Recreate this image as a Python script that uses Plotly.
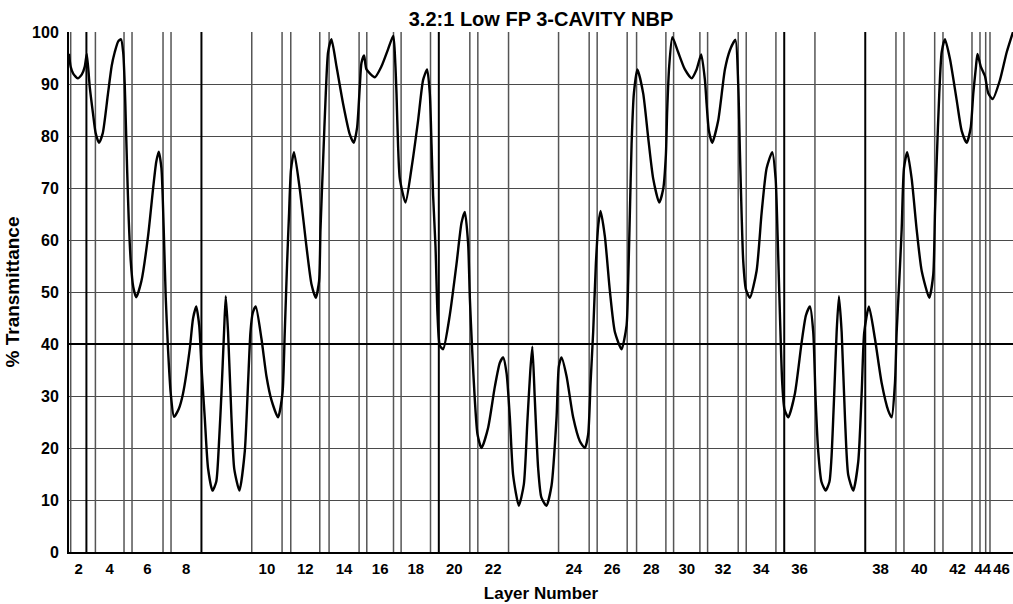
import numpy as np
import plotly.graph_objects as go

# Layer thicknesses (relative units)
layer_thickness = [1.7, 15.7, 9.0, 28.6, 8.0, 31.0, 8.0, 30.4, 50.3, 30.3,
                   8.7, 29.0, 9.3, 30.0, 7.7, 26.7, 7.6, 29.4, 8.3, 31.0,
                   8.0, 30.7, 50.0, 30.6, 8.0, 30.0, 9.4, 29.3, 7.7, 26.3,
                   7.7, 30.6, 8.0, 29.7, 8.3, 30.7, 50.3, 30.7, 8.0, 30.7,
                   8.3, 29.0, 8.0, 5.7, 4.3, 23.0]
layer_numbers = list(range(1, len(layer_thickness) + 1))
# boundaries drawn heavier
heavy_boundaries = [2, 8, 19, 35, 37]

# Transmittance curve: position through the stack and % transmittance
position = [
    0, 1.7, 4.2, 8.7, 12.7, 15.7, 17.8,
    20.7, 24.0, 26.7, 30.0, 33.7, 39.0, 42.7, 45.7, 49.2, 52.0,
    54.2, 55.7, 56.9, 58.2, 59.7, 61.7, 64.2, 67.2,
    72.4, 79.0, 84.0, 87.2, 89.7,
    92.4, 94.7, 96.7, 99.0, 101.7, 105.0,
    109.7, 114.0, 120.7, 124.0, 127.2,
    130.2, 132.4, 135.7, 139.0, 143.4,
    147.2, 150.2, 152.4, 155.0, 156.7,
    159.0, 162.4, 165.2, 170.4,
    175.7, 179.0, 181.4, 183.7, 186.7,
    192.4, 197.4, 202.4, 209.0,
    213.4, 215.7, 218.0, 220.0, 221.9, 225.0,
    230.7, 237.4, 242.4, 246.7,
    250.0, 251.4, 254.0, 256.7, 259.0, 262.4,
    267.4, 274.0, 280.7, 284.7,
    288.0, 290.7, 292.4, 295.0,
    297.4, 305.7,
    312.4, 319.0, 324.2,
    326.2, 327.4, 329.0, 330.7, 336.4,
    342.4, 349.0, 354.0, 358.0,
    360.7, 362.4, 364.0, 366.4, 368.4, 370.7, 374.0,
    380.7, 387.4, 392.4, 395.7,
    399.0, 400.7, 403.0, 405.7, 408.4, 412.4,
    419.0, 425.7, 430.7, 434.0,
    437.4, 440.7, 444.0, 449.7,
    454.7, 458.2, 461.2, 463.2,
    465.7, 469.0, 472.2, 477.2,
    482.4, 487.4, 489.7, 492.4,
    497.4, 504.0, 510.7, 515.7,
    519.0, 521.4, 524.0, 526.7, 529.2, 531.4,
    535.7, 540.7, 545.7, 552.4,
    557.4, 559.0, 560.7, 562.4, 564.7, 568.2,
    574.0, 579.0, 584.0, 590.0,
    594.0, 596.7, 598.0, 600.0, 603.2,
    609.0, 615.7, 622.4,
    627.4, 632.0,
    635.7, 637.4, 639.7, 643.0,
    649.0, 655.7, 660.7, 666.2,
    669.0, 670.7, 672.4, 674.0, 676.7, 680.7,
    687.4, 692.4, 697.4, 703.0,
    706.4, 708.4, 710.7, 713.0, 715.2, 719.0,
    725.7, 732.4, 736.7, 740.7,
    744.0, 746.4, 749.0, 752.2, 756.4,
    760.2, 762.2, 765.0, 767.4, 769.7,
    772.4, 775.7, 779.0, 784.0,
    789.0, 792.4, 795.0, 799.7,
    805.7, 812.4, 819.0, 822.4,
    825.7, 827.4, 830.0, 832.4, 834.7, 838.0,
    842.4, 847.4, 852.4, 860.0,
    864.0, 865.7, 867.4, 870.0, 872.4, 875.7,
    880.7, 887.4, 892.4, 897.4,
    901.4, 904.0, 906.7, 908.2,
    911.4, 915.7, 919.0, 923.4,
    930.7, 937.4, 943.7,
]
transmittance = [
    95.8, 93.3, 92.0, 91.1, 91.8, 93.3, 95.8,
    89.5, 84.3, 80.5, 78.7, 80.5, 88.2, 93.5, 96.1, 98.2, 98.6,
    96.0, 90.0, 82.0, 73.0, 64.0, 56.0, 51.0, 49.0,
    52.1, 60.7, 69.8, 75.0, 77.0,
    73.8, 62.0, 49.0, 39.0, 30.5, 26.0,
    27.5, 30.5, 39.0, 44.9, 47.2,
    43.5, 35.7, 25.9, 16.1, 11.8,
    13.5, 22.0, 30.5, 42.3, 49.2,
    42.3, 25.9, 16.0, 11.8,
    19.3, 32.5, 42.3, 46.0, 47.2,
    41.0, 33.8, 29.2, 25.9,
    30.5, 42.3, 55.4, 65.2, 73.5, 76.9,
    69.8, 58.7, 51.5, 48.9,
    52.1, 62.0, 75.1, 88.2, 96.1, 98.6,
    93.4, 86.2, 80.3, 78.7,
    81.6, 89.5, 94.1, 95.5,
    92.8, 91.3,
    93.4, 96.7, 99.3,
    94.0, 88.2, 78.0, 71.8, 67.2,
    73.8, 83.0, 90.8, 92.8,
    88.2, 78.4, 68.5, 58.7, 45.6, 39.7, 39.0,
    45.6, 55.4, 63.3, 65.4,
    59.3, 48.9, 39.0, 29.2, 22.6, 20.0,
    23.9, 31.8, 36.4, 37.4,
    34.4, 25.9, 14.8, 8.9,
    13.0, 25.0, 35.0, 39.5,
    29.2, 16.1, 10.5, 8.9,
    12.8, 25.9, 35.7, 37.4,
    33.8, 25.9, 21.3, 20.0,
    22.6, 32.5, 42.3, 55.4, 63.0, 65.6,
    60.7, 50.2, 42.3, 39.0,
    43.6, 52.1, 65.2, 78.4, 88.2, 92.8,
    88.2, 79.7, 71.8, 67.2,
    69.8, 76.4, 84.9, 93.4, 99.0,
    96.1, 92.8, 91.1,
    92.8, 95.7,
    90.8, 86.2, 81.0, 78.7,
    83.0, 92.8, 96.5, 98.5,
    90.0, 77.0, 65.0, 56.0, 50.5, 48.9,
    54.1, 65.2, 73.8, 76.9,
    71.8, 60.7, 45.6, 32.5, 27.5, 25.9,
    30.5, 40.3, 45.5, 47.2,
    42.3, 29.2, 19.3, 13.5, 11.8,
    13.5, 18.0, 30.5, 42.3, 49.2,
    42.3, 25.9, 14.8, 11.8,
    17.4, 30.5, 42.3, 47.2,
    41.0, 32.5, 27.2, 25.9,
    32.5, 42.3, 52.1, 62.0, 73.8, 76.9,
    71.8, 62.0, 54.1, 48.9,
    53.4, 65.2, 75.1, 88.2, 96.1, 98.6,
    94.8, 86.9, 81.0, 78.7,
    81.6, 88.2, 93.4, 95.8,
    93.4, 91.5, 88.2, 87.1,
    90.8, 96.1, 100.0,
]
assert len(position) == len(transmittance)

y_ticks = list(range(0, 101, 10))

bounds = np.concatenate([[0.0], np.cumsum(layer_thickness)])
total = float(bounds[-1])
centers = (bounds[:-1] + bounds[1:]) / 2
even_idx = [i for i, n in enumerate(layer_numbers) if n % 2 == 0]
tickvals = [float(centers[i]) for i in even_idx]
ticktext = [str(layer_numbers[i]) for i in even_idx]

FONT = "Liberation Sans, Arial, sans-serif"

fig = go.Figure()

lx, ly, hx, hy = [], [], [], []
for k in range(1, len(bounds) - 1):
    b = float(bounds[k])
    if k in heavy_boundaries:
        hx += [b, b, None]; hy += [0, 100, None]
    else:
        lx += [b, b, None]; ly += [0, 100, None]
fig.add_trace(go.Scatter(x=lx, y=ly, mode="lines", line=dict(color="#555555", width=1.5),
                         hoverinfo="skip", showlegend=False))
fig.add_trace(go.Scatter(x=hx, y=hy, mode="lines", line=dict(color="#000000", width=2),
                         hoverinfo="skip", showlegend=False))
fig.add_trace(go.Scatter(x=[0, total], y=[40, 40], mode="lines",
                         line=dict(color="#000000", width=2), hoverinfo="skip", showlegend=False))

fig.add_trace(go.Scatter(x=position, y=transmittance, mode="lines",
                         line=dict(color="#000000", width=2.4, shape="spline", smoothing=0.6),
                         showlegend=False))

fig.update_layout(
    width=1013, height=604,
    margin=dict(l=69, r=0, t=32, b=52),
    paper_bgcolor="white", plot_bgcolor="white",
    title=dict(text="3.2:1 Low FP 3-CAVITY NBP", x=541 / 1013, xanchor="center",
               y=1 - 19 / 604, yanchor="middle", yref="container",
               font=dict(family=FONT, size=20, color="black", weight="bold")),
    font=dict(family=FONT, color="black"),
)
fig.update_xaxes(range=[0, total], tickvals=tickvals, ticktext=ticktext,
                 showgrid=False, zeroline=False, showline=True, linecolor="black", linewidth=2,
                 ticks="", ticklabelstandoff=2, tickangle=0,
                 tickfont=dict(family=FONT, size=15, color="black", weight="bold"),
                 title=dict(text="Layer Number", standoff=11,
                            font=dict(family=FONT, size=17, color="black", weight="bold")))
fig.update_yaxes(range=[0, 100], tickvals=y_ticks, showgrid=True, gridcolor="#4a4a4a",
                 gridwidth=1.2, zeroline=False, showline=True, linecolor="black", linewidth=2,
                 ticks="", ticklabelstandoff=5,
                 tickfont=dict(family=FONT, size=16, color="black", weight="bold"),
                 title=dict(text="% Transmittance", standoff=7,
                            font=dict(family=FONT, size=19, color="black", weight="bold")))

fig.write_html("out.html")
